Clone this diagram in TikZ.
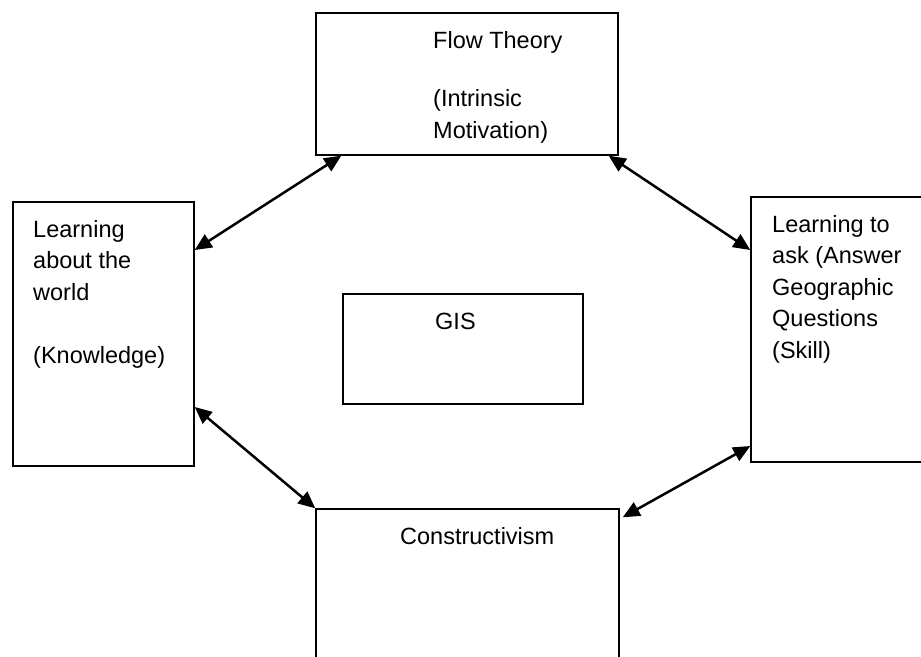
\documentclass[tikz,border=0pt]{standalone}
\usepackage{fontspec}
\setmainfont{Liberation Sans}
\usetikzlibrary{arrows.meta}
\tikzset{
 box/.style={draw=black, line width=1.4pt, inner sep=0pt},
 txt/.style={anchor=north west, inner sep=0pt, align=left, font=\fontsize{23.5}{31.5}\selectfont},
 link/.style={{Triangle[length=17pt,width=15pt]}-{Triangle[length=17pt,width=15pt]}, line width=2.5pt}
}
\begin{document}
\begin{tikzpicture}[x=1pt,y=-1pt]
 \clip (0,0) rectangle (921,656);
 \fill[white] (0,0) rectangle (921,656);
 \node (flow) at (467,84) [box,minimum width=302pt,minimum height=142pt] {};
 \node (learn) at (103.5,334) [box,minimum width=181pt,minimum height=264pt] {};
 \node (ask) at (841.5,329.5) [box,minimum width=181pt,minimum height=265pt] {};
 \node (gis) at (463,349) [box,minimum width=240pt,minimum height=110pt] {};
 \node (cons) at (467.5,594.5) [box,minimum width=303pt,minimum height=171pt] {};
 \node (flow txt) at (433,31) [txt] {Flow Theory\\[27pt](Intrinsic\\Motivation)};
 \node (learn txt) at (33,220) [txt] {Learning\\about the\\world\\[31.5pt](Knowledge)};
 \node (ask txt) at (772,215) [txt] {Learning to\\ask (Answer\\Geographic\\Questions\\(Skill)};
 \node (gis txt) at (435,313) [txt] {GIS};
 \node (cons txt) at (400,527) [txt] {Constructivism};
 \draw[link] ([yshift=84pt]learn.east) -- ([xshift=26pt]flow.south west);
 \draw[link] ([xshift=-10pt]flow.south east) -- ([yshift=79.5pt]ask.west);
 \draw[link] ([yshift=-73pt]learn.east) -- (cons.north west);
 \draw[link] ([yshift=-116.5pt]ask.west) -- ([shift={(3pt,-9pt)}]cons.north east);
\end{tikzpicture}
\end{document}
